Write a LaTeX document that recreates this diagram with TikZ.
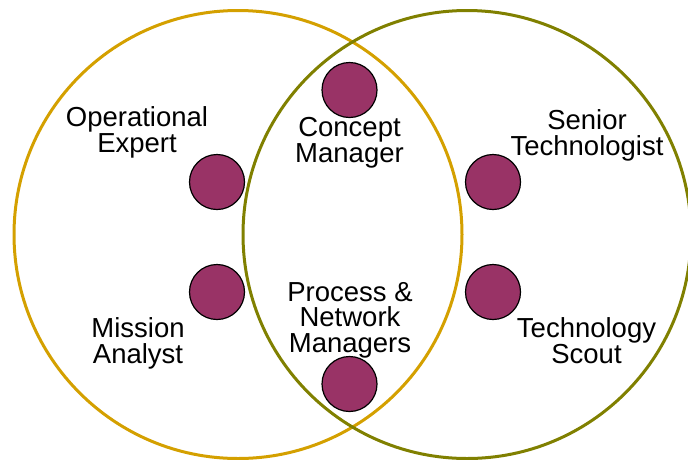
\documentclass[tikz,border=0pt]{standalone}
\usepackage{fontspec}
\setmainfont{Liberation Sans}
\definecolor{ringgold}{RGB}{212,160,0}
\definecolor{ringolive}{RGB}{128,128,0}
\definecolor{dotplum}{RGB}{153,51,102}
\tikzset{
    ring/.style={circle, inner sep=0pt, line width=3pt, minimum size=448pt},
    member/.style={circle, inner sep=0pt, draw=black, fill=dotplum, line width=1.2pt, minimum size=55pt}
}
\tikzset{role/.style={align=center, inner sep=0pt, anchor=base, font=\fontsize{27.5}{25.5}\selectfont}}

\begin{document}
\begin{tikzpicture}[x=1pt, y=-1pt]
  \useasboundingbox (0,0) rectangle (688,459);
  \node (R1) [ring, draw=ringgold] at (238,234.5) {};
  \node (R2) [ring, draw=ringolive] at (467,234.5) {};

  \node (ops) [member] at (217,182) {};
  \node (mis) [member] at (217,292) {};
  \node (con) [member] at (349.5,90) {};
  \node (pnm) [member] at (349.5,384) {};
  \node (sen) [member] at (493,182) {};
  \node (sct) [member] at (493,292) {};

  % anchor=base sits on the last line
  \node (opsL) [role] at (137,152) {Operational\\Expert};
  \node (misL) [role] at (138,363) {Mission\\Analyst};
  \node (conL) [role] at (349.5,162) {Concept\\Manager};
  \node (pnmL) [role] at (350,352) {Process \&\\Network\\Managers};
  \node (senL) [role] at (587,155) {Senior\\Technologist};
  \node (sctL) [role] at (586.5,363) {Technology\\Scout};
\end{tikzpicture}
\end{document}
